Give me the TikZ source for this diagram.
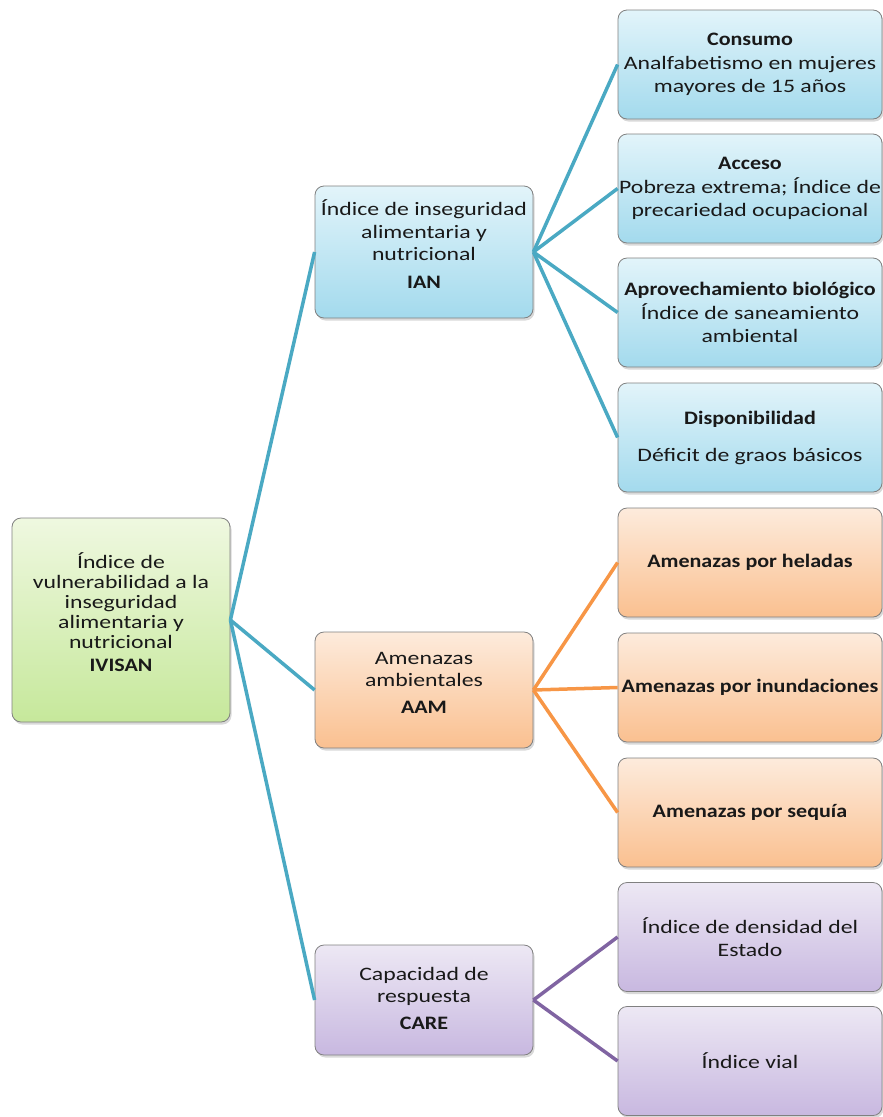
\documentclass[tikz,border=0pt]{standalone}
\usepackage{fontspec}
\setmainfont{Carlito}[FakeStretch=1.25, BoldFeatures={FakeStretch=1.16}]
\usetikzlibrary{shadows}
\definecolor{tealline}{HTML}{4AA9C3}
\definecolor{orangeline}{HTML}{F79646}
\definecolor{purpleline}{HTML}{8064A2}
\definecolor{gtop}{HTML}{EFF8E0}
\definecolor{gbot}{HTML}{C6E89B}
\definecolor{btop}{HTML}{E2F4FA}
\definecolor{bbot}{HTML}{A3DAED}
\definecolor{otop}{HTML}{FDEBDC}
\definecolor{obot}{HTML}{FAC090}
\definecolor{ptop}{HTML}{EDE8F4}
\definecolor{pbot}{HTML}{C8B8E0}
\begin{document}
\begin{tikzpicture}[x=1pt,y=-1pt,
  box/.style={draw=black!50, line width=0.8pt, rounded corners=9pt, inner sep=0pt,
    align=center, text=black!90,
    drop shadow={shadow xshift=1.5pt, shadow yshift=-2.5pt, opacity=0.3}},
  greenbox/.style={box, top color=gtop, bottom color=gbot},
  bluebox/.style={box, top color=btop, bottom color=bbot},
  orangebox/.style={box, top color=otop, bottom color=obot},
  purplebox/.style={box, top color=ptop, bottom color=pbot},
  parentsize/.style={minimum width=218pt},
  childsize/.style={minimum width=264pt, minimum height=109pt},
  ptext/.style={inner sep=0pt, align=center, text=black!90},
  link/.style={line width=3.5pt},
]
\useasboundingbox (0,0) rectangle (883,1117);

% root
\node[greenbox, minimum width=218pt, minimum height=204pt] (root) at (121,620) {};
\node[ptext, font=\fontsize{19}{20}\selectfont] (roottext) at ([yshift=8pt]root.center)
  {Índice de\\ vulnerabilidad a la\\ inseguridad\\ alimentaria y\\ nutricional\\[3pt] \textbf{IVISAN}};

% level 1
\node[bluebox, parentsize, minimum height=132pt] (ian) at (424,252) {};
\node[ptext, font=\fontsize{19}{22.5}\selectfont] (iantext) at ([yshift=8pt]ian.center)
  {Índice de inseguridad\\ alimentaria y\\ nutricional\\[5pt] \textbf{IAN}};
\node[orangebox, parentsize, minimum height=116pt] (aam) at (424,690) {};
\node[ptext, font=\fontsize{19}{22}\selectfont] (aamtext) at ([yshift=7pt]aam.center)
  {Amenazas\\ ambientales\\[5pt] \textbf{AAM}};
\node[purplebox, parentsize, minimum height=110pt] (care) at (424,1000) {};
\node[ptext, font=\fontsize{19}{22}\selectfont] (caretext) at ([yshift=2pt]care.center)
  {Capacidad de\\ respuesta\\[5pt] \textbf{CARE}};

% level 2 - IAN
\node[bluebox, childsize, font=\fontsize{19}{23}\selectfont] (c1) at (750,64.5)
  {\textbf{Consumo}\\[1pt] Analfabetismo en mujeres\\ mayores de 15 años};
\node[bluebox, childsize, font=\fontsize{19}{23}\selectfont] (c2) at (750,188.5)
  {\textbf{Acceso}\\[1pt] Pobreza extrema; Índice de\\ precariedad ocupacional};
\node[bluebox, childsize, font=\fontsize{19}{23}\selectfont] (c3) at (750,312.5)
  {\textbf{Aprovechamiento biológico}\\[1pt] Índice de saneamiento\\ ambiental};
\node[bluebox, childsize, font=\fontsize{19}{23}\selectfont] (c4) at (750,437.5)
  {\textbf{Disponibilidad}\\[14pt] Déficit de graos básicos};

% level 2 - AAM
\node[orangebox, childsize, font=\fontsize{19}{23}\selectfont\bfseries] (a1) at (750,562.5)
  {Amenazas por heladas};
\node[orangebox, childsize, font=\fontsize{19}{23}\selectfont\bfseries] (a2) at (750,687.5)
  {Amenazas por inundaciones};
\node[orangebox, childsize, font=\fontsize{19}{23}\selectfont\bfseries] (a3) at (750,812.5)
  {Amenazas por sequía};

% level 2 - CARE
\node[purplebox, childsize, font=\fontsize{19}{23}\selectfont] (r1) at (750,937)
  {Índice de densidad del\\ Estado};
\node[purplebox, childsize, font=\fontsize{19}{23}\selectfont] (r2) at (750,1061)
  {Índice vial};

% connectors
\draw[link, tealline] (root.east) -- (ian.west);
\draw[link, tealline] (root.east) -- (aam.west);
\draw[link, tealline] (root.east) -- (care.west);
\foreach \c in {c1,c2,c3,c4} \draw[link, tealline] (ian.east) -- (\c.west);
\foreach \c in {a1,a2,a3} \draw[link, orangeline] (aam.east) -- (\c.west);
\foreach \c in {r1,r2} \draw[link, purpleline] (care.east) -- (\c.west);
\end{tikzpicture}
\end{document}
